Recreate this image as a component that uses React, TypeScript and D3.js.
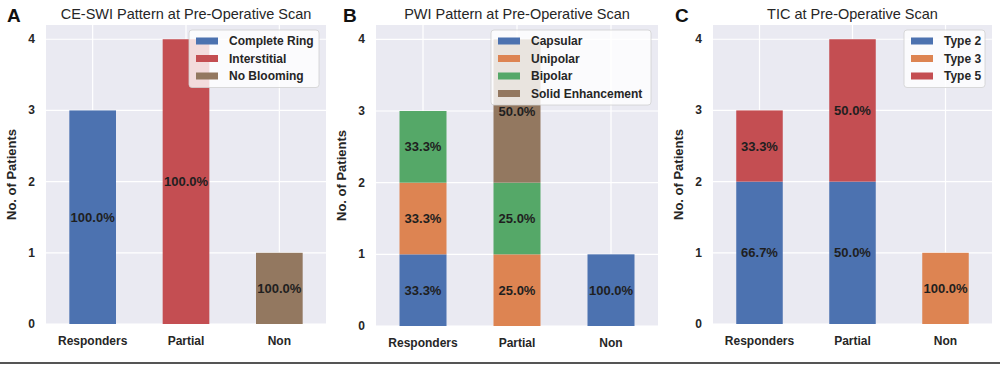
import { useEffect, useRef } from "react";
import * as d3 from "d3";

const categories = ["Responders", "Partial", "Non"];
const yTicks = [0, 1, 2, 3, 4];

// Panel A: CE-SWI pattern
const swiSeries = ["Complete Ring", "Interstitial", "No Blooming"];
const swiValues = [
  [3, 0, 0],
  [0, 4, 0],
  [0, 0, 1],
];

// Panel B: PWI pattern
const pwiSeries = ["Capsular", "Unipolar", "Bipolar", "Solid Enhancement"];
const pwiValues = [
  [1, 0, 1],
  [1, 1, 0],
  [1, 1, 0],
  [0, 2, 0],
];

// Panel C: TIC
const ticSeries = ["Type 2", "Type 3", "Type 5"];
const ticValues = [
  [2, 2, 0],
  [0, 0, 1],
  [1, 2, 0],
];

const C = {
  blue: "#4c72b0",
  orange: "#dd8452",
  green: "#55a868",
  red: "#c44e52",
  brown: "#937860",
};

const FONT = "'Liberation Sans', Arial, Helvetica, sans-serif";

interface Panel {
  letter: string;
  letterX: number;
  title: string;
  series: string[];
  values: number[][];
  colors: string[];
  left: number;
  right: number;
  top: number;
  bottom: number;
  legendW: number;
}

const panels: Panel[] = [
  {
    letter: "A",
    letterX: 7,
    title: "CE-SWI Pattern at Pre-Operative Scan",
    series: swiSeries,
    values: swiValues,
    colors: [C.blue, C.red, C.brown],
    left: 46,
    right: 326,
    top: 25,
    bottom: 324,
    legendW: 130,
  },
  {
    letter: "B",
    letterX: 343,
    title: "PWI Pattern at Pre-Operative Scan",
    series: pwiSeries,
    values: pwiValues,
    colors: [C.blue, C.orange, C.green, C.brown],
    left: 376,
    right: 658,
    top: 25,
    bottom: 326,
    legendW: 160,
  },
  {
    letter: "C",
    letterX: 675,
    title: "TIC at Pre-Operative Scan",
    series: ticSeries,
    values: ticValues,
    colors: [C.blue, C.orange, C.red],
    left: 713,
    right: 992,
    top: 25,
    bottom: 324,
    legendW: 81,
  },
];

export default function App() {
  const svgRef = useRef<SVGSVGElement>(null);

  useEffect(() => {
    if (!svgRef.current) return;
    const svg = d3.select(svgRef.current);
    svg.selectAll("*").remove();

    svg.append("rect").attr("width", 1000).attr("height", 366).attr("fill", "#fff");

    panels.forEach((p) => {
      const g = svg.append("g");

      const x = d3
        .scaleBand()
        .domain(categories)
        .range([p.left, p.right])
        .paddingInner(0.5)
        .paddingOuter(0.25);
      const y = d3.scaleLinear().domain([0, 4.2]).range([p.bottom, p.top]);

      // background + grid
      g.append("rect")
        .attr("x", p.left)
        .attr("y", p.top)
        .attr("width", p.right - p.left)
        .attr("height", p.bottom - p.top)
        .attr("fill", "#eaeaf2");

      g.selectAll("line.hgrid")
        .data(yTicks)
        .join("line")
        .attr("x1", p.left)
        .attr("x2", p.right)
        .attr("y1", (d) => y(d))
        .attr("y2", (d) => y(d))
        .attr("stroke", "#fff")
        .attr("stroke-width", 1.2);

      g.selectAll("line.vgrid")
        .data(categories)
        .join("line")
        .attr("x1", (d) => x(d)! + x.bandwidth() / 2)
        .attr("x2", (d) => x(d)! + x.bandwidth() / 2)
        .attr("y1", p.top)
        .attr("y2", p.bottom)
        .attr("stroke", "#fff")
        .attr("stroke-width", 1.2);

      // stacked bars
      const rows = categories.map((c, ci) => {
        const r: Record<string, number | string> = { cat: c };
        p.series.forEach((s, si) => (r[s] = p.values[si][ci]));
        return r;
      });
      const totals = categories.map((_, ci) => d3.sum(p.values, (v) => v[ci]));
      const stacked = d3.stack<any>().keys(p.series)(rows);

      stacked.forEach((layer, si) => {
        layer.forEach((seg, ci) => {
          const v = seg[1] - seg[0];
          if (v <= 0) return;
          const cat = categories[ci];
          g.append("rect")
            .attr("x", x(cat)!)
            .attr("width", x.bandwidth())
            .attr("y", y(seg[1]))
            .attr("height", y(seg[0]) - y(seg[1]))
            .attr("fill", p.colors[si]);
        });
      });

      // legend (drawn over bars, semi-transparent)
      const lx = p.right - 7 - p.legendW;
      const ly = p.top + 5;
      const rowH = 17.5;
      const lh = p.series.length * rowH + 5;
      g.append("rect")
        .attr("x", lx)
        .attr("y", ly)
        .attr("width", p.legendW)
        .attr("height", lh)
        .attr("rx", 3)
        .attr("fill", "#fff")
        .attr("fill-opacity", 0.8)
        .attr("stroke", "#d0d0d0")
        .attr("stroke-width", 0.8);
      p.series.forEach((s, si) => {
        const cy = ly + 11 + si * rowH;
        g.append("rect")
          .attr("x", lx + 7)
          .attr("y", cy - 3.5)
          .attr("width", 22)
          .attr("height", 7)
          .attr("fill", p.colors[si]);
        g.append("text")
          .attr("x", lx + 40)
          .attr("y", cy + 4)
          .attr("font-family", FONT)
          .attr("font-weight", "bold")
          .attr("font-size", 12)
          .attr("fill", "#262626")
          .text(s);
      });

      // bar labels
      stacked.forEach((layer) => {
        layer.forEach((seg, ci) => {
          const v = seg[1] - seg[0];
          if (v <= 0) return;
          const cat = categories[ci];
          g.append("text")
            .attr("x", x(cat)! + x.bandwidth() / 2)
            .attr("y", y((seg[0] + seg[1]) / 2) + 4.5)
            .attr("text-anchor", "middle")
            .attr("font-family", FONT)
            .attr("font-weight", "bold")
            .attr("font-size", 13)
            .attr("fill", "#1f1f1f")
            .text(`${((v / totals[ci]) * 100).toFixed(1)}%`);
        });
      });

      // y ticks
      g.selectAll("text.ytick")
        .data(yTicks)
        .join("text")
        .attr("x", p.left - 11)
        .attr("y", (d) => y(d) + 4)
        .attr("text-anchor", "end")
        .attr("font-family", FONT)
        .attr("font-weight", "bold")
        .attr("font-size", 12)
        .attr("fill", "#262626")
        .text((d) => d);

      // x ticks
      g.selectAll("text.xtick")
        .data(categories)
        .join("text")
        .attr("x", (d) => x(d)! + x.bandwidth() / 2)
        .attr("y", p.bottom + 21)
        .attr("text-anchor", "middle")
        .attr("font-family", FONT)
        .attr("font-weight", "bold")
        .attr("font-size", 12)
        .attr("fill", "#262626")
        .text((d) => d);

      // y label
      g.append("text")
        .attr("transform", `translate(${p.left - 30},${(p.top + p.bottom) / 2}) rotate(-90)`)
        .attr("text-anchor", "middle")
        .attr("font-family", FONT)
        .attr("font-weight", "bold")
        .attr("font-size", 13)
        .attr("fill", "#262626")
        .text("No. of Patients");

      // title
      g.append("text")
        .attr("x", (p.left + p.right) / 2)
        .attr("y", 19)
        .attr("text-anchor", "middle")
        .attr("font-family", FONT)
        .attr("font-size", 14.5)
        .attr("fill", "#262626")
        .text(p.title);

      // panel letter
      g.append("text")
        .attr("x", p.letterX)
        .attr("y", 22)
        .attr("font-family", FONT)
        .attr("font-weight", "bold")
        .attr("font-size", 19)
        .attr("fill", "#111")
        .text(p.letter);
    });

    // rule under the figure
    svg.append("rect")
      .attr("x", 0)
      .attr("y", 362)
      .attr("width", 1000)
      .attr("height", 2)
      .attr("fill", "#555");
  }, []);

  return (
    <div style={{ position: "fixed", left: 0, top: 0 }}>
      <svg ref={svgRef} width={1000} height={366} style={{ display: "block" }} />
    </div>
  );
}
